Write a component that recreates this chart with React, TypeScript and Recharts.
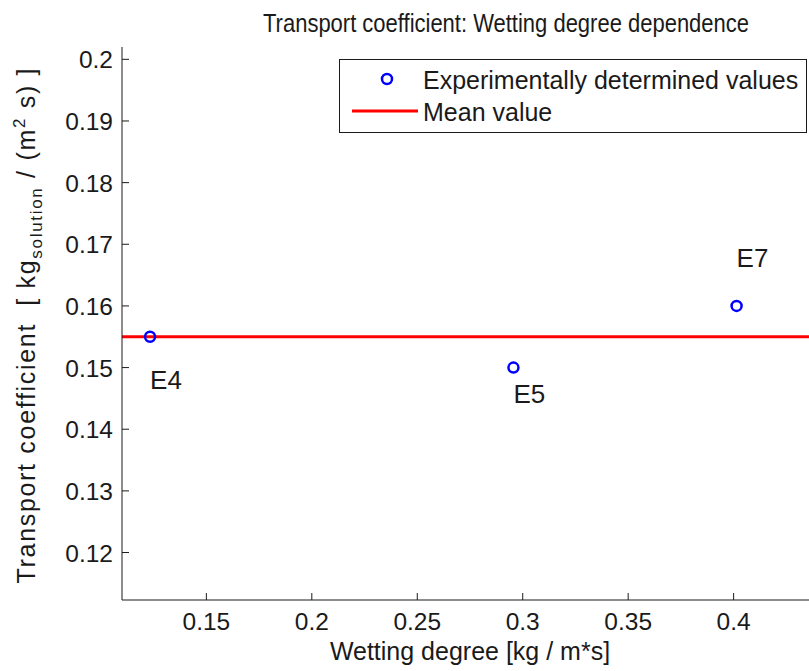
import { ReferenceLine, Scatter, ScatterChart, XAxis, YAxis } from "recharts";

// experiment runs
const runNames = ["E4", "E5", "E7"];
const wettingDegree = [0.1233, 0.2956, 0.4014];
const transportCoef = [0.155, 0.15, 0.16];
// where the run names sit (data coords, left edge / baseline)
const labelY = [0.1465, 0.1443, 0.1663];
const meanValue = 0.155;

const xTicks = [0.15, 0.2, 0.25, 0.3, 0.35, 0.4];
const yTicks = [0.12, 0.13, 0.14, 0.15, 0.16, 0.17, 0.18, 0.19, 0.2];
const xDomain = [0.11, 0.44];
const yDomain = [0.1123, 0.202];

const seriesNames = ["Experimentally determined values", "Mean value"];

const FONT = "'Liberation Sans', Arial, Helvetica, sans-serif";
const INK = "#1a1a1a";
const TICK_LEN = 7;

const points = runNames.map((name, i) => ({
  name,
  x: wettingDegree[i],
  y: transportCoef[i],
}));
const labelPoints = runNames.map((name, i) => ({
  name,
  x: wettingDegree[i],
  y: labelY[i],
}));

const fmt = (v: number) => String(Number(v.toFixed(3)));

function BottomTick({ x, y, payload }: any) {
  return (
    <g>
      <line x1={x} x2={x} y1={y} y2={y - TICK_LEN} stroke={INK} strokeWidth={1} />
      <text x={x} y={y + 30} textAnchor="middle" fontSize={24.5} fill={INK} fontFamily={FONT}>
        {fmt(payload.value)}
      </text>
    </g>
  );
}

function TopTick({ x, y }: any) {
  return <line x1={x} x2={x} y1={y} y2={y + TICK_LEN} stroke={INK} strokeWidth={1} />;
}

function LeftTick({ x, y, payload }: any) {
  return (
    <g>
      <line x1={x} x2={x + TICK_LEN} y1={y} y2={y} stroke={INK} strokeWidth={1} />
      <text x={x - 9} y={y + 9} textAnchor="end" fontSize={24.5} fill={INK} fontFamily={FONT}>
        {fmt(payload.value)}
      </text>
    </g>
  );
}

function Marker({ cx, cy }: any) {
  return <circle cx={cx} cy={cy} r={5} fill="none" stroke="#0000ff" strokeWidth={2.5} />;
}

function RunLabel({ cx, cy, payload }: any) {
  return (
    <text x={cx} y={cy} fontSize={26} fill={INK} fontFamily={FONT}>
      {payload.name}
    </text>
  );
}

export default function App() {
  return (
    <div
      style={{
        position: "absolute",
        left: 0,
        top: 0,
        width: 809,
        height: 671,
        overflow: "hidden",
        background: "#fff",
        fontFamily: FONT,
      }}
    >
      <ScatterChart width={836} height={671} margin={{ top: 47, right: 18, bottom: 0, left: 0 }}>
        <XAxis
          xAxisId="bottom"
          dataKey="x"
          type="number"
          domain={xDomain}
          ticks={xTicks}
          allowDataOverflow
          height={71}
          tickSize={0}
          tickMargin={0}
          tickLine={false}
          tick={<BottomTick />}
          axisLine={{ stroke: INK, strokeWidth: 1 }}
          interval={0}
        />
        <XAxis
          xAxisId="top"
          orientation="top"
          dataKey="x"
          type="number"
          domain={xDomain}
          ticks={xTicks}
          allowDataOverflow
          height={0}
          tickSize={0}
          tickMargin={0}
          tickLine={false}
          tick={<TopTick />}
          axisLine={{ stroke: INK, strokeWidth: 1 }}
          interval={0}
        />
        <YAxis
          dataKey="y"
          type="number"
          domain={yDomain}
          ticks={yTicks}
          allowDataOverflow
          width={122}
          tickSize={0}
          tickMargin={0}
          tickLine={false}
          tick={<LeftTick />}
          axisLine={{ stroke: INK, strokeWidth: 1 }}
          interval={0}
        />
        <ReferenceLine
          xAxisId="bottom"
          y={meanValue}
          stroke="#ff0000"
          strokeWidth={3}
          ifOverflow="hidden"
        />
        <Scatter
          xAxisId="bottom"
          name={seriesNames[0]}
          data={points}
          shape={<Marker />}
          isAnimationActive={false}
        />
        <Scatter
          xAxisId="bottom"
          name="labels"
          data={labelPoints}
          shape={<RunLabel />}
          isAnimationActive={false}
        />
      </ScatterChart>

      {/* title, x label, y label */}
      <svg
        width={809}
        height={671}
        style={{ position: "absolute", left: 0, top: 0, pointerEvents: "none" }}
        fontFamily={FONT}
        fill={INK}
      >
        <text
          transform="translate(506,32) scale(0.88,1)"
          textAnchor="middle"
          fontSize={25}
        >
          Transport coefficient: Wetting degree dependence
        </text>
        <text x={470} y={660} textAnchor="middle" fontSize={25}>
          Wetting degree [kg / m*s]
        </text>
        <text
          transform="translate(35,326) rotate(-90)"
          textAnchor="middle"
          fontSize={25}
          textLength={515}
          lengthAdjust="spacing"
          style={{ whiteSpace: "pre" }}
        >
          {"Transport coefficient  [ kg"}
          <tspan dy={7} fontSize={17}>solution</tspan>
          <tspan dy={-7}>{" / (m"}</tspan>
          <tspan dy={-10} fontSize={17}>2</tspan>
          <tspan dy={10}>{" s) ]"}</tspan>
        </text>
      </svg>

      {/* legend */}
      <div
        style={{
          position: "absolute",
          left: 339,
          top: 59,
          width: 466,
          height: 72,
          border: `1px solid ${INK}`,
          background: "#fff",
        }}
      >
        <svg width={466} height={72} fontFamily={FONT} fill={INK} style={{ display: "block" }}>
          <circle cx={47} cy={19} r={5} fill="none" stroke="#0000ff" strokeWidth={2.5} />
          <text x={83} y={29} fontSize={25}>
            {seriesNames[0]}
          </text>
          <line x1={12} x2={78} y1={51} y2={51} stroke="#ff0000" strokeWidth={3} />
          <text x={83} y={61} fontSize={25}>
            {seriesNames[1]}
          </text>
        </svg>
      </div>
    </div>
  );
}
